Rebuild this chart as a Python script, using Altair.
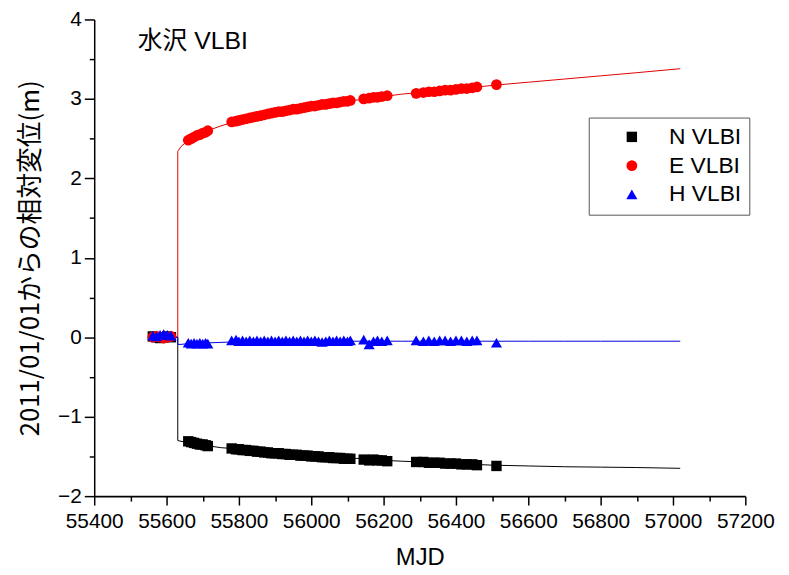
import altair as alt
import pandas as pd

# ---------------- data ----------------
series_names = ["N VLBI", "E VLBI", "H VLBI"]
series_colors = ["#000000", "#ff0000", "#0000ff"]
line_colors = ["#000000", "#e00000", "#0000e0"]
series_shapes = ["square", "circle", "triangle-up"]
series_sizes = [110, 125, 140]

plot_label = "水沢 VLBI"
x_title = "MJD"
y_title = "2011/01/01からの相対変位(m)"

x_ticks = [55400, 55600, 55800, 56000, 56200, 56400, 56600, 56800, 57000, 57200]
x_minor = [55500, 55700, 55900, 56100, 56300, 56500, 56700, 56900, 57100]
y_ticks = [-2, -1, 0, 1, 2, 3, 4]
y_minor = [-1.5, -0.5, 0.5, 1.5, 2.5, 3.5]

# sessions before the earthquake
pre_mjd = [55562, 55572, 55582, 55592, 55602, 55612]
pre_N = [0.01, 0.00, -0.01, 0.00, 0.01, 0.00]
pre_E = [0.00, 0.01, 0.00, -0.01, 0.00, 0.01]
pre_H = [0.02, 0.01, 0.03, 0.04, 0.03, 0.02]

# sessions after the earthquake
post_mjd = [
    55660, 55668, 55676, 55684, 55692, 55700, 55708, 55714,
    55780, 55792, 55800, 55810, 55820, 55830, 55840, 55850, 55860, 55870,
    55880, 55890, 55900, 55910, 55920, 55930, 55940, 55950, 55960, 55970,
    55980, 55990, 56000, 56010, 56020, 56030, 56040, 56050, 56060, 56070,
    56080, 56090, 56100, 56108,
    56145, 56160, 56172, 56183, 56195, 56210,
    56290, 56310, 56325, 56340, 56355, 56370, 56385, 56400, 56415, 56430, 56445, 56458,
    56512,
]
post_E = [
    2.48, 2.50, 2.52, 2.54, 2.55, 2.57, 2.58, 2.60,
    2.71, 2.72, 2.73, 2.74, 2.75, 2.76, 2.77, 2.78, 2.79, 2.80,
    2.81, 2.82, 2.83, 2.84, 2.84, 2.85, 2.86, 2.87, 2.87, 2.88,
    2.89, 2.90, 2.91, 2.91, 2.92, 2.93, 2.93, 2.94, 2.95, 2.95,
    2.96, 2.97, 2.97, 2.98,
    3.00, 3.01, 3.02, 3.02, 3.03, 3.04,
    3.07, 3.08, 3.09, 3.09, 3.10, 3.11, 3.11, 3.12, 3.13, 3.13, 3.14, 3.15,
    3.18,
]
post_N = [
    -1.31, -1.32, -1.33, -1.34, -1.35, -1.35, -1.36, -1.37,
    -1.40, -1.41, -1.41, -1.42, -1.42, -1.43, -1.43, -1.44, -1.44, -1.45,
    -1.45, -1.46, -1.46, -1.46, -1.47, -1.47, -1.48, -1.48, -1.48, -1.49,
    -1.49, -1.49, -1.50, -1.50, -1.50, -1.51, -1.51, -1.51, -1.52, -1.52,
    -1.52, -1.53, -1.53, -1.53,
    -1.54, -1.55, -1.54, -1.55, -1.55, -1.56,
    -1.57, -1.57, -1.58, -1.58, -1.58, -1.59, -1.59, -1.59, -1.60, -1.60, -1.60, -1.61,
    -1.62,
]
post_H = [
    -0.07, -0.08, -0.07, -0.08, -0.07, -0.08, -0.07, -0.08,
    -0.04, -0.03, -0.05, -0.04, -0.05, -0.04, -0.05, -0.04, -0.05, -0.04,
    -0.05, -0.04, -0.05, -0.04, -0.05, -0.04, -0.05, -0.04, -0.05, -0.04,
    -0.05, -0.04, -0.05, -0.04, -0.05, -0.06, -0.05, -0.04, -0.05, -0.04,
    -0.05, -0.04, -0.05, -0.04,
    -0.03, -0.09, -0.05, -0.04, -0.05, -0.04,
    -0.04, -0.05, -0.04, -0.05, -0.04, -0.04, -0.05, -0.04, -0.04, -0.05, -0.04, -0.04,
    -0.07,
]

# fitted curves (with the co-seismic step at MJD 55631)
curve_mjd = [55562, 55631, 55631, 55640, 55650, 55660, 55680, 55700, 55720, 55750,
             55780, 55820, 55860, 55900, 55950, 56000, 56050, 56100, 56150, 56200,
             56250, 56300, 56400, 56500, 56600, 56700, 56800, 56900, 57020]
curve_E = [0.00, 0.00, 2.34, 2.40, 2.44, 2.48, 2.53, 2.57, 2.61, 2.66,
           2.70, 2.75, 2.79, 2.83, 2.87, 2.91, 2.94, 2.97, 3.00, 3.03,
           3.06, 3.08, 3.12, 3.17, 3.21, 3.25, 3.29, 3.33, 3.38]
curve_N = [0.00, 0.00, -1.30, -1.31, -1.315, -1.32, -1.34, -1.35, -1.37, -1.39,
           -1.40, -1.42, -1.44, -1.45, -1.47, -1.49, -1.50, -1.52, -1.53, -1.55,
           -1.56, -1.57, -1.59, -1.61, -1.62, -1.63, -1.635, -1.64, -1.65]
curve_H = [0.00, 0.00, -0.09, -0.09, -0.085, -0.08, -0.08, -0.075, -0.07, -0.065,
           -0.06, -0.06, -0.055, -0.055, -0.055, -0.05, -0.05, -0.05, -0.05, -0.05,
           -0.05, -0.05, -0.05, -0.05, -0.05, -0.05, -0.05, -0.05, -0.05]

# ---------------- tables ----------------
pts_rows = []
for name, pre, post in [("N VLBI", pre_N, post_N), ("E VLBI", pre_E, post_E), ("H VLBI", pre_H, post_H)]:
    for m, v in zip(pre_mjd + post_mjd, pre + post):
        pts_rows.append({"mjd": m, "val": v, "series": name})
pts_df = pd.DataFrame(pts_rows)

line_rows = []
for name, cv in [("N VLBI", curve_N), ("E VLBI", curve_E), ("H VLBI", curve_H)]:
    for i, (m, v) in enumerate(zip(curve_mjd, cv)):
        line_rows.append({"mjd": m, "val": v, "series": name, "idx": i})
line_df = pd.DataFrame(line_rows)

label_df = pd.DataFrame({"t": [plot_label]})

# ---------------- chart ----------------
NUM_FONT = "Liberation Sans"
scale_x = alt.Scale(domain=[55400, 57200], nice=False, zero=False)
scale_y = alt.Scale(domain=[-2, 4], nice=False, zero=False)

major_x = alt.Axis(values=x_ticks, title=x_title, orient="bottom", grid=False,
                   domainColor="black", domainWidth=2, tickColor="black", tickWidth=1.5,
                   tickSize=9, labelFont=NUM_FONT, labelFontSize=21, labelColor="black",
                   labelPadding=6, labelFlush=False, labelOverlap=False, format="d",
                   titleFont="Liberation Sans", titleFontSize=24, titleFontWeight="normal",
                   titleColor="black", titlePadding=14)
major_y = alt.Axis(values=y_ticks, title=y_title, orient="left", grid=False,
                   domainColor="black", domainWidth=1.5, tickColor="black", tickWidth=1.5,
                   tickSize=10, labelFont=NUM_FONT, labelFontSize=21, labelColor="black",
                   labelPadding=3, labelFlush=False, labelOverlap=False,
                   titleFont="Noto Sans CJK JP", titleFontSize=26, titleFontWeight="normal",
                   titleColor="black", titlePadding=14)
minor_x = alt.Axis(values=x_minor, title=None, orient="bottom", grid=False, labels=False,
                   domain=False, tickColor="black", tickWidth=1.5, tickSize=5)
minor_y = alt.Axis(values=y_minor, title=None, orient="left", grid=False, labels=False,
                   domain=False, tickColor="black", tickWidth=1.5, tickSize=5)

line_layers = []
for k, (name, col) in enumerate(zip(series_names, line_colors)):
    if k == 0:
        ax_x, ax_y = major_x, major_y
    else:
        ax_x, ax_y = None, None
    line_layers.append(
        alt.Chart(line_df).transform_filter(alt.datum.series == name)
        .mark_line(strokeWidth=1, color=col, clip=True)
        .encode(
            x=alt.X("mjd:Q", scale=scale_x, axis=ax_x),
            y=alt.Y("val:Q", scale=scale_y, axis=ax_y),
            order=alt.Order("idx:Q"),
        )
    )

minor = alt.Chart(line_df).mark_point(opacity=0).encode(
    x=alt.X("mjd:Q", scale=scale_x, axis=minor_x),
    y=alt.Y("val:Q", scale=scale_y, axis=minor_y),
)

legend = alt.Legend(title=None, orient="none", legendX=499, legendY=99, direction="vertical",
                    labelFont="Liberation Sans", labelFontSize=23, labelColor="black",
                    symbolSize=120, symbolOffset=24, labelOffset=26, rowPadding=5,
                    padding=8, strokeColor="#555555", fillColor="white", labelLimit=300)

points = alt.Chart(pts_df).mark_point(filled=True, opacity=1).encode(
    x=alt.X("mjd:Q", scale=scale_x, axis=None),
    y=alt.Y("val:Q", scale=scale_y, axis=None),
    color=alt.Color("series:N", scale=alt.Scale(domain=series_names, range=series_colors), legend=legend),
    shape=alt.Shape("series:N", scale=alt.Scale(domain=series_names, range=series_shapes), legend=legend),
    size=alt.Size("series:N", scale=alt.Scale(domain=series_names, range=series_sizes), legend=None),
)

text = alt.Chart(label_df).mark_text(align="left", baseline="middle",
                                     font="Liberation Sans, Noto Sans CJK JP",
                                     fontSize=25, color="black").encode(
    text="t:N", x=alt.value(44), y=alt.value(22)
)

chart = alt.layer(*line_layers, minor, points, text).resolve_axis(
    x="independent", y="independent"
).properties(
    width=657, height=481,
    autosize=alt.AutoSizeParams(type="none"),
    padding={"left": 87, "top": 9, "right": 36, "bottom": 74},
).configure_view(stroke=None)

chart.save("out.html", embed_options={"renderer": "svg", "actions": False})
